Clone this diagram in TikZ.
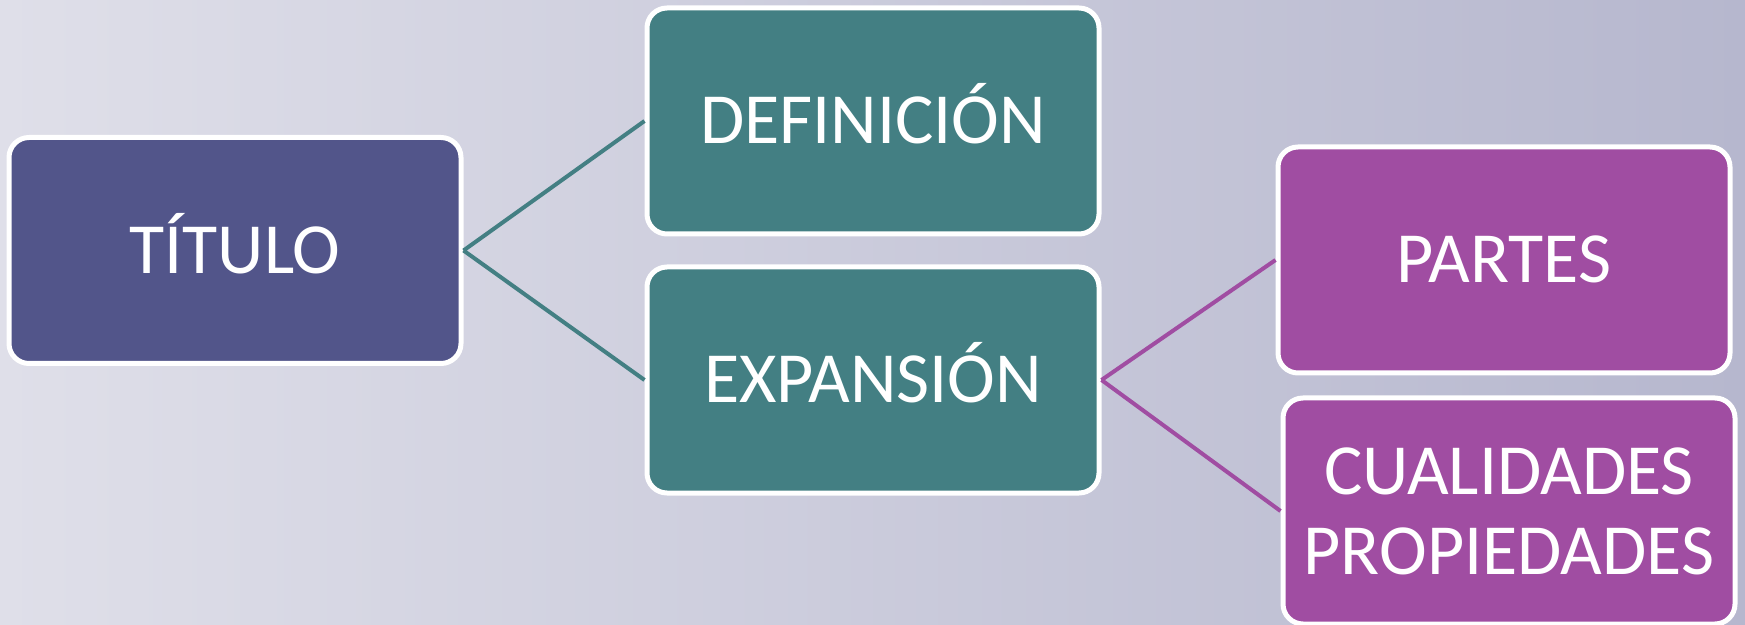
\documentclass[tikz,border=0pt]{standalone}
\usepackage{fontspec}
\setmainfont{Carlito}
\usetikzlibrary{positioning}
\definecolor{backLeftColor}{HTML}{DFDFE9}
\definecolor{backRightColor}{HTML}{B6B7CE}
\definecolor{titleColor}{HTML}{52558A}
\definecolor{branchColor}{HTML}{437F83}
\definecolor{leafColor}{HTML}{A04DA2}

\begin{document}
\begin{tikzpicture}[%
    align=center,every node/.style={font=\fontsize{36}{40}\selectfont}]
    \tikzstyle{card}=[text centered,%
      rectangle,rounded corners=10pt,draw=white,line width=2.5pt,%
      text=white,text height=22.8pt,text depth=0pt,%
      minimum width=226pt,minimum height=113pt]
    % All card styles
    \tikzstyle{titleCard}=[card,fill=titleColor]
    \tikzstyle{branch}=[card,fill=branchColor]
    \tikzstyle{leaf}=[card,fill=leafColor]
    \tikzstyle{branchEdge}=[draw=branchColor,line width=2pt]
    \tikzstyle{leafEdge}=[draw=leafColor,line width=2pt]
    % Background
    \shade[left color=backLeftColor,right color=backRightColor]
      (0,0) rectangle (872.5pt,-312.5pt);
    \useasboundingbox (0,0) rectangle (872.5pt,-312.5pt);
    % All cards
    \node (titulo) [titleCard] at (117.5pt,-125.25pt)            {TÍTULO};
    \node (definicion) [branch,right=90.5pt of titulo,yshift=64.75pt] {DEFINICIÓN};
    \node (expansion) [branch,below=14pt of definicion]          {EXPANSIÓN};
    \node (partes) [leaf,right=87pt of expansion,yshift=60pt]     {PARTES};
    \node (cualidades) [leaf,text height=,text depth=,%
      below=10pt of partes,xshift=2.5pt]                         {CUALIDADES\\PROPIEDADES};
    % Edges
    \draw [branchEdge] (titulo.east) -- (definicion.west);
    \draw [branchEdge] (titulo.east) -- (expansion.west);
    \draw [leafEdge] (expansion.east) -- (partes.west);
    \draw [leafEdge] (expansion.east) -- (cualidades.west);
  \end{tikzpicture}
\end{document}
